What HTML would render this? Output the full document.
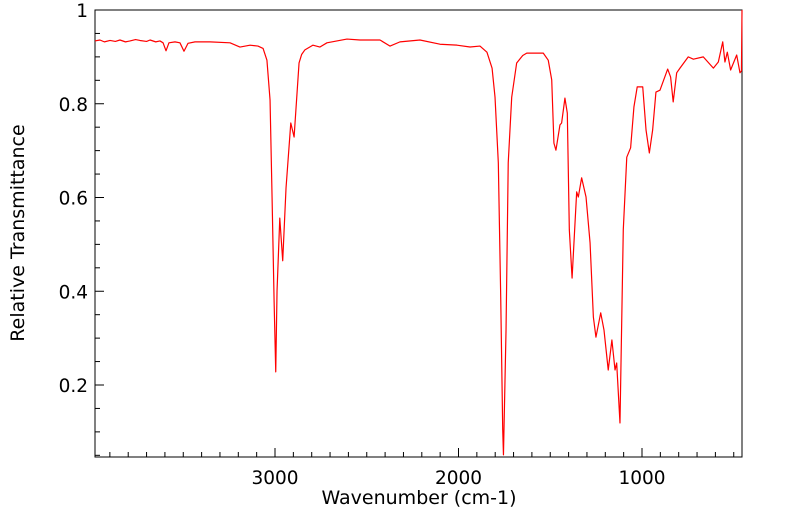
<!DOCTYPE html>
<html><head><meta charset="utf-8">
<style>
html,body{margin:0;padding:0;background:#fff;}
svg{display:block;font-family:"DejaVu Sans","Liberation Sans",sans-serif;}
</style></head>
<body>
<svg id="chart" width="799" height="516" viewBox="0 0 799 516" xmlns="http://www.w3.org/2000/svg">
<g id="axes"></g>
<path id="spectrum" fill="none" stroke="#ff0000" stroke-width="1.2" stroke-linejoin="round"/>
<text x="419" y="504" font-size="19" text-anchor="middle">Wavenumber (cm-1)</text>
<text x="0" y="0" font-size="19" text-anchor="middle" transform="translate(24,233) rotate(-90)">Relative Transmittance</text>
</svg>
<script>
const wavenumbers = [3981,3954,3930,3899,3870,3845,3815,3790,3760,3736,3700,3681,3650,3627,3610,3594,3578,3545,3518,3496,3474,3436,3354,3245,3191,3136,3093,3065,3044,3027,3016,3005,2996,2989,2974,2958,2940,2914,2896,2869,2855,2837,2793,2755,2717,2608,2537,2428,2373,2319,2210,2101,2008,1937,1883,1845,1817,1801,1783,1770,1759,1755,1741,1729,1710,1683,1650,1628,1538,1511,1492,1480,1469,1447,1438,1420,1407,1396,1381,1356,1347,1329,1305,1283,1265,1251,1225,1207,1184,1164,1147,1138,1120,1102,1083,1062,1044,1026,996,978,960,942,924,902,860,844,830,811,793,748,720,666,611,584,560,548,535,517,484,466,458,455];
const transmittance = [.934,.936,.932,.935,.933,.936,.932,.934,.937,.935,.933,.936,.932,.934,.930,.913,.930,.932,.930,.912,.929,.932,.932,.930,.921,.925,.923,.918,.893,.808,.6,.38,.228,.40,.556,.465,.62,.759,.729,.887,.905,.915,.925,.921,.930,.938,.936,.936,.923,.932,.936,.927,.925,.921,.923,.910,.876,.814,.674,.388,.104,.051,.317,.674,.814,.887,.903,.908,.908,.893,.851,.716,.701,.755,.759,.812,.780,.531,.428,.612,.601,.642,.601,.503,.345,.302,.354,.317,.232,.296,.232,.247,.119,.531,.686,.706,.793,.836,.836,.744,.695,.744,.825,.829,.874,.857,.804,.866,.876,.900,.895,.900,.876,.889,.932,.889,.910,.872,.904,.866,.87,1.0];
const xTickLabels = [3000,2000,1000];
const yTickLabels = [0.2,0.4,0.6,0.8,1];

const L=95,R=742,T=10,B=457;
const xMax=3981,xMin=455,yMin=0.0464,yMax=1;
function xs(w){return R-(w-xMin)/(xMax-xMin)*(R-L);}
function ys(v){return B-(v-yMin)/(yMax-yMin)*(B-T);}
const NS='http://www.w3.org/2000/svg';
const axes=document.getElementById('axes');
function mk(tag,attrs){const e=document.createElementNS(NS,tag);for(const k in attrs)e.setAttribute(k,attrs[k]);axes.appendChild(e);return e;}

const frame=mk('rect',{x:L,y:T,width:R-L,height:B-T,fill:'none',stroke:'#000','stroke-width':1});



for(let w=500;w<=3900;w+=100){
  const x=xs(w);const major=w%1000===0;
  const t=mk('line',{x1:x,x2:x,y1:B,y2:B-(major?9:5),stroke:'#000','stroke-width':1});
  
  
}
xTickLabels.forEach(v=>{
  const t=mk('text',{x:xs(v),y:484,'font-size':18.5,'text-anchor':'middle'});
  t.textContent=v;
  
  
});
for(let i=1;i<=20;i++){
  const v=i*0.05;if(v<yMin)continue;
  const y=ys(v);const major=(i%4===0);
  const t=mk('line',{x1:L,x2:L+(major?9:5),y1:y,y2:y,stroke:'#000','stroke-width':1});
  
  
}
yTickLabels.forEach(v=>{
  const t=mk('text',{x:88,y:ys(v)+7,'font-size':18.5,'text-anchor':'end'});
  t.textContent=String(v);
  
  
});

let d='';
wavenumbers.forEach((w,i)=>{d+=(i?'L':'M')+xs(w).toFixed(2)+','+ys(transmittance[i]).toFixed(2);});
document.getElementById('spectrum').setAttribute('d',d);
</script>
</body></html>
